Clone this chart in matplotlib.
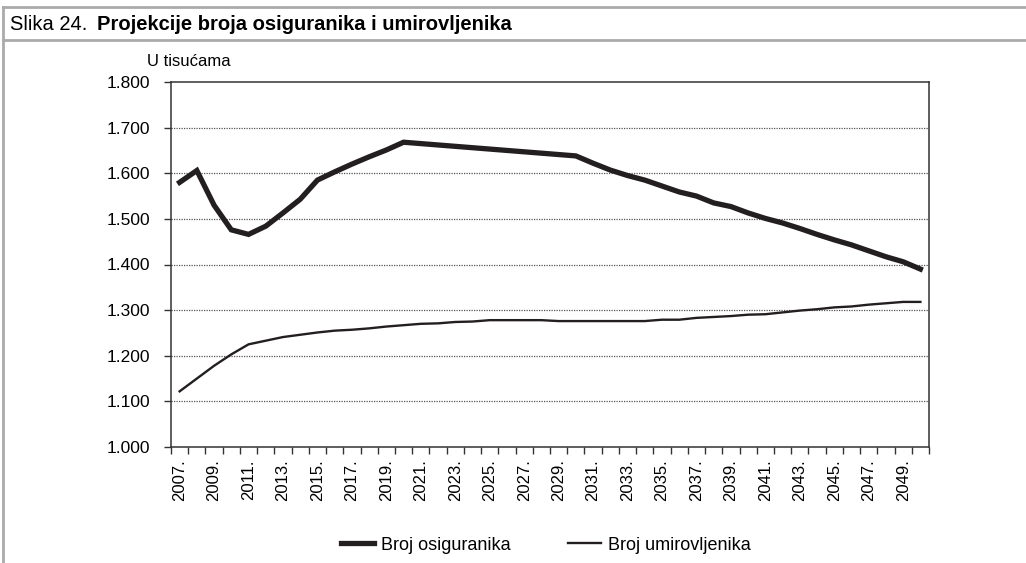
import numpy as np
import matplotlib.pyplot as plt
from matplotlib.lines import Line2D

plt.rcParams['font.family'] = ['Liberation Sans', 'DejaVu Sans']

# podaci (u tisucama)
godine = list(range(2007, 2051))
osiguranici = [1580, 1606, 1530, 1476, 1466, 1484, 1513, 1543, 1585, 1603,
               1620, 1636, 1651, 1668, 1665, 1662, 1659, 1656, 1653, 1650,
               1647, 1644, 1641, 1638, 1622, 1607, 1595, 1585, 1572, 1559,
               1550, 1535, 1527, 1513, 1501, 1491, 1479, 1466, 1454, 1443,
               1430, 1417, 1406, 1390]
umirovljenici = [1122, 1150, 1178, 1203, 1225, 1233, 1241, 1246, 1251, 1255,
                 1257, 1260, 1264, 1267, 1270, 1271, 1274, 1275, 1278, 1278,
                 1278, 1278, 1276, 1276, 1276, 1276, 1276, 1276, 1279, 1279,
                 1283, 1285, 1287, 1290, 1291, 1295, 1299, 1302, 1306, 1308,
                 1312, 1315, 1318, 1318]
naslov_br = 'Slika 24.'
naslov = 'Projekcije broja osiguranika i umirovljenika'
jedinica = 'U tisućama'
serije = ['Broj osiguranika', 'Broj umirovljenika']

boja = '#231f20'
siva = '#aaaaaa'

fig = plt.figure(figsize=(10.26, 5.63), dpi=100)
ax = fig.add_axes([171 / 1026, 1 - 447 / 563, (929 - 171) / 1026, (447 - 82) / 563])

x = np.arange(len(godine))
ax.plot(x, osiguranici, color=boja, lw=3.8, solid_joinstyle='miter', zorder=3)
ax.plot(x, umirovljenici, color=boja, lw=1.7, zorder=3)

ax.set_xlim(-0.5, len(godine) - 0.5)
ax.set_ylim(1000, 1800)
yt = np.arange(1000, 1801, 100)
ax.set_yticks(yt)
ax.set_yticklabels(['{:,}'.format(v).replace(',', '.') for v in yt], fontsize=12.5)
for v in yt[1:-1]:
    ax.axhline(v, color='#555555', lw=0.9, ls=(0, (1, 1)), zorder=1)

ax.set_xticks(x[::2])
ax.set_xticklabels([f'{g}.' for g in godine[::2]], rotation=90, fontsize=12)
ax.set_xticks(np.arange(-0.5, len(godine), 1), minor=True)
ax.tick_params(axis='x', which='major', length=0, pad=9)
ax.tick_params(axis='x', which='minor', length=5, width=1, color='#333333')
ax.tick_params(axis='y', length=5, width=1, color='#333333', pad=10)

for s in ax.spines.values():
    s.set_color('#333333')
    s.set_linewidth(1.1)

ax.text(-0.032, 1.035, jedinica, transform=ax.transAxes, fontsize=12, ha='left', va='bottom')

# okvir slike
fig.add_artist(Line2D([3 / 1026, 3 / 1026], [0, 1 - 7 / 563], color=siva, lw=2))
fig.add_artist(Line2D([3 / 1026, 1], [1 - 7 / 563, 1 - 7 / 563], color=siva, lw=2))
fig.add_artist(Line2D([3 / 1026, 1], [1 - 40 / 563, 1 - 40 / 563], color=siva, lw=2))
fig.text(10 / 1026, 1 - 24 / 563, naslov_br, fontsize=14.5, va='center', ha='left')
fig.text(97 / 1026, 1 - 24 / 563, naslov, fontsize=14.5, va='center', ha='left',
         fontweight='bold')

handles = [Line2D([], [], color=boja, lw=3.8), Line2D([], [], color=boja, lw=1.7)]
fig.legend(handles, serije, loc='center', bbox_to_anchor=(546 / 1026, 1 - 545 / 563),
           ncol=2, frameon=False, fontsize=13, handlelength=1.8, handletextpad=0.4,
           columnspacing=3.2)

fig.savefig('out.png', dpi=100)
